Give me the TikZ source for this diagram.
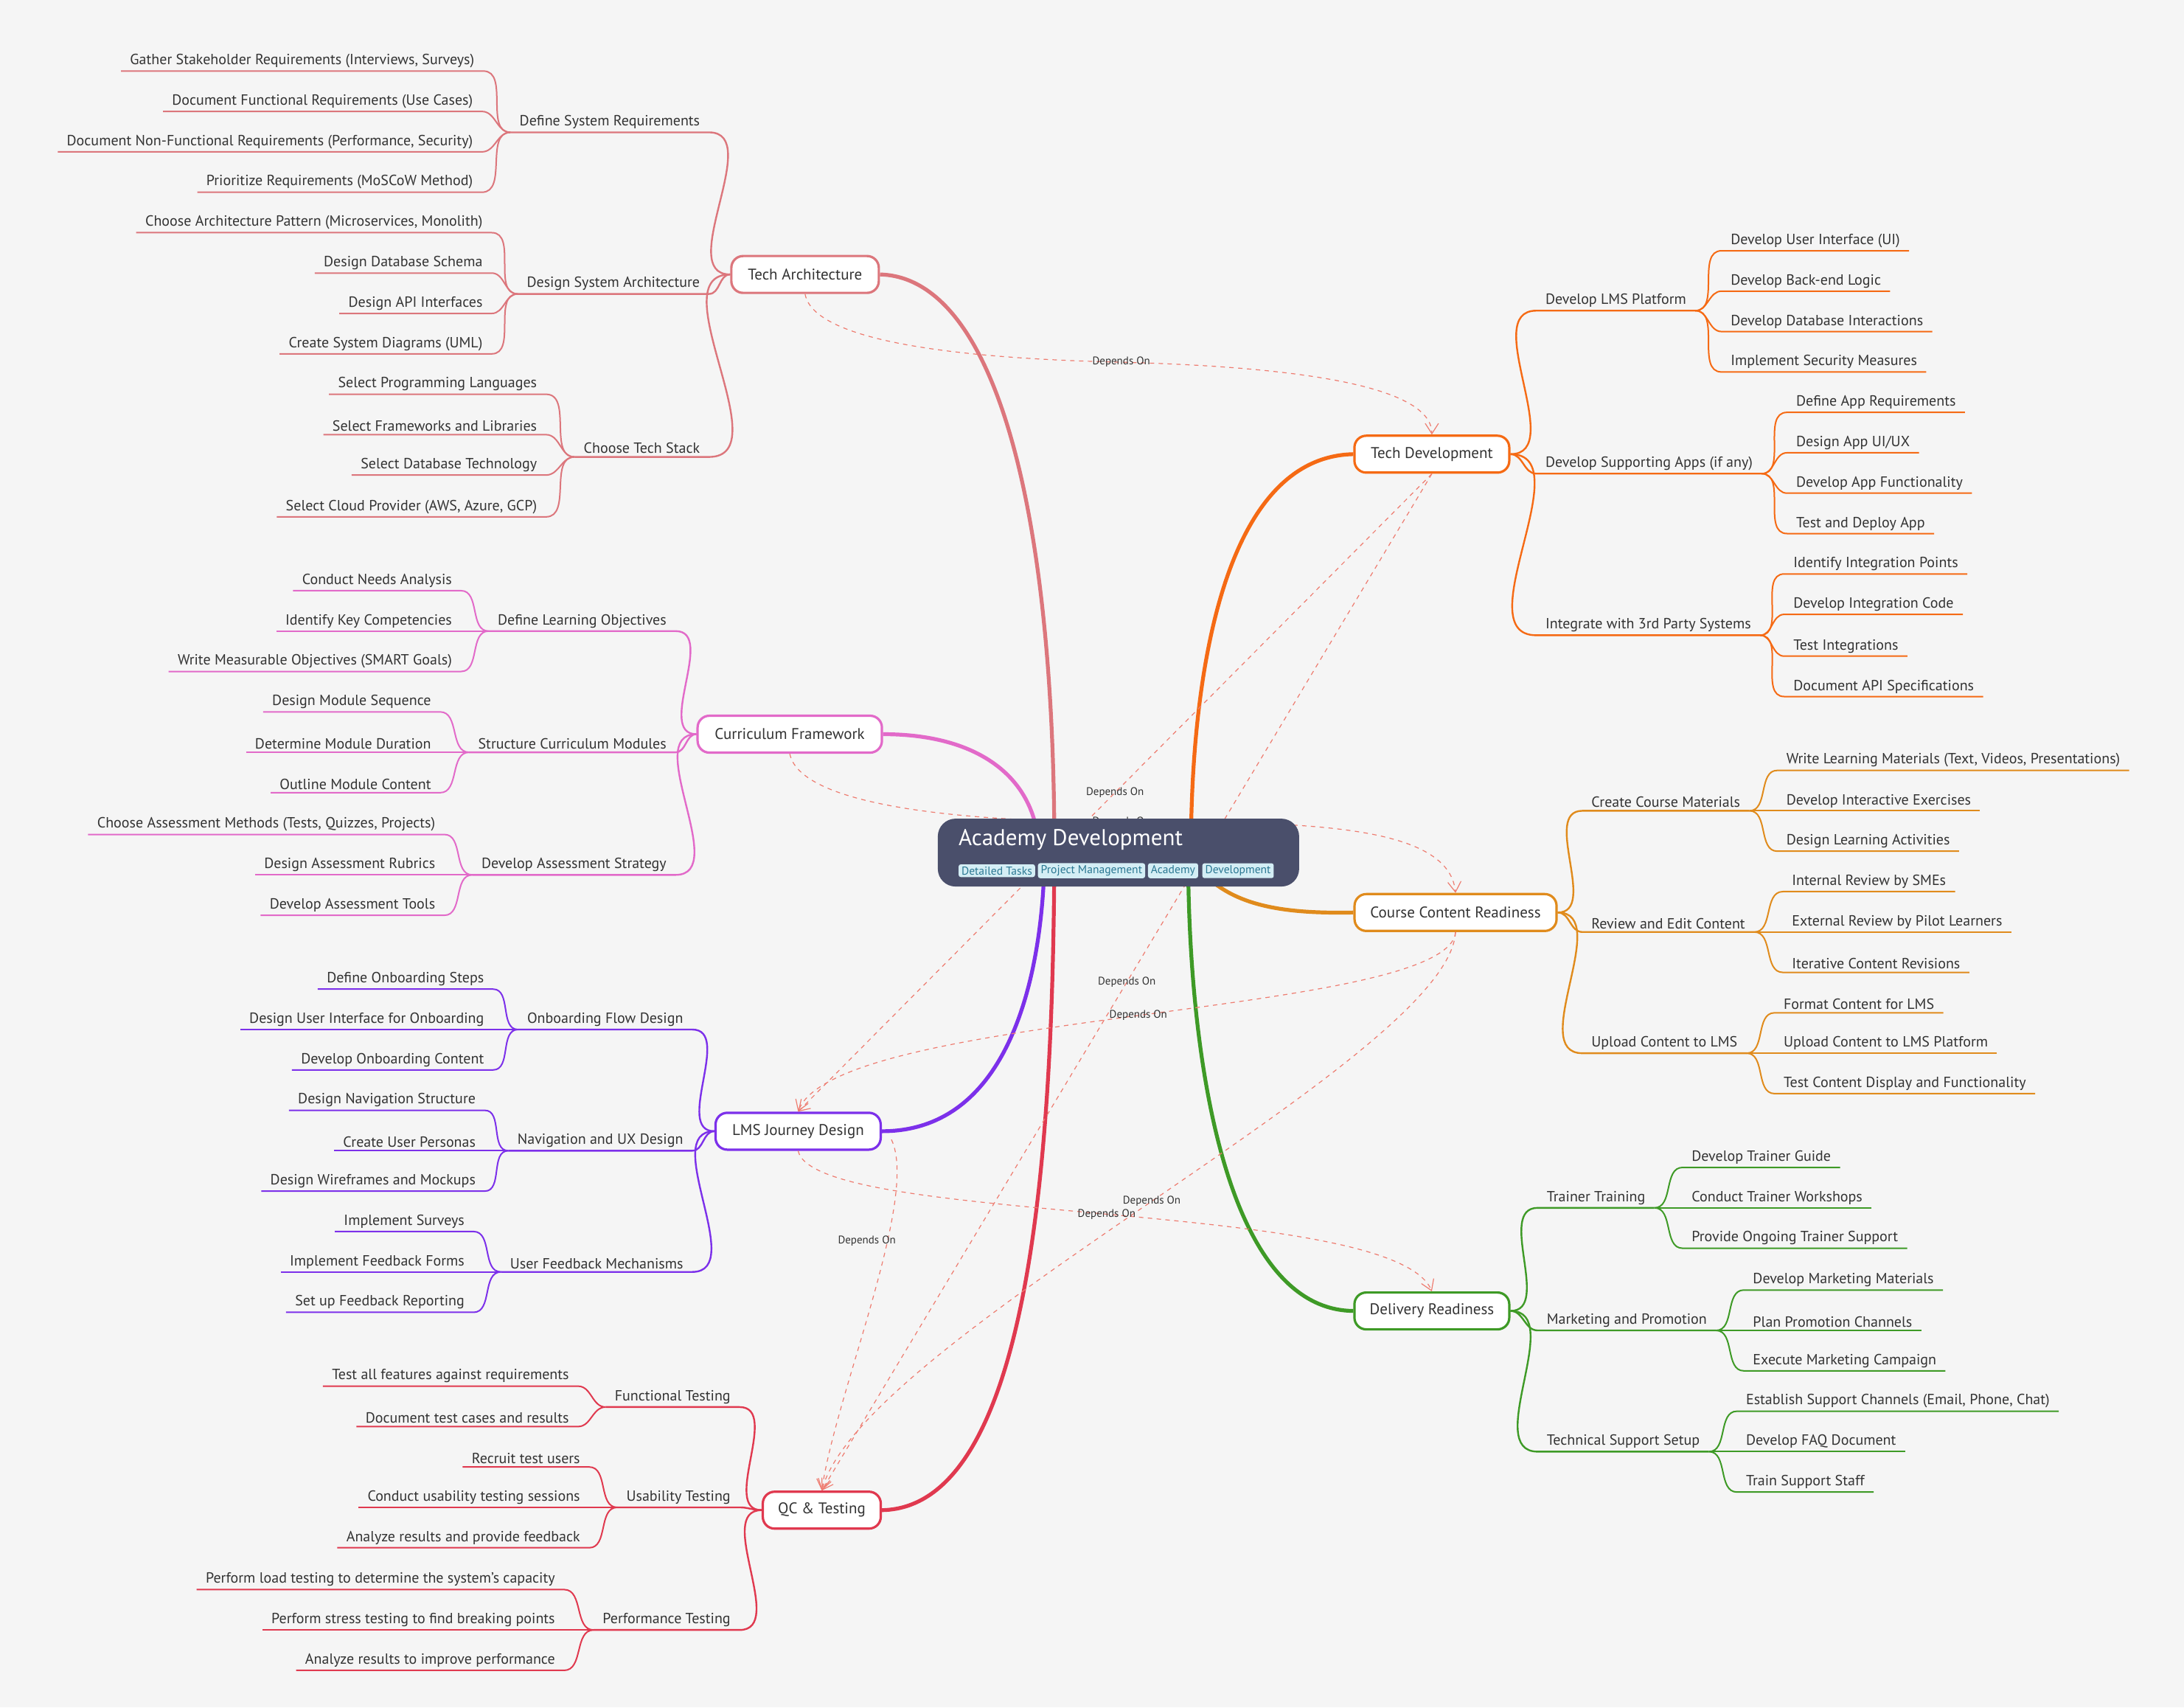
\documentclass[tikz,border=0pt]{standalone}
\usepackage{fontspec}
\setmainfont{PT Sans}
\usetikzlibrary{arrows.meta}
\definecolor{bg}{HTML}{F5F5F5}
\definecolor{cTA}{HTML}{DC767C}
\definecolor{cCF}{HTML}{E26AC9}
\definecolor{cLJ}{HTML}{7C30EA}
\definecolor{cQC}{HTML}{E0394F}
\definecolor{cTD}{HTML}{F56A14}
\definecolor{cCC}{HTML}{E08B1C}
\definecolor{cDR}{HTML}{3E9A26}
\definecolor{dep}{HTML}{EE7C70}
\definecolor{ctr}{HTML}{4A4F6B}
\definecolor{tagbg}{HTML}{D4EEF5}
\definecolor{tagfg}{HTML}{2A7792}
\definecolor{txt}{HTML}{333333}
\newcommand\Lsub[4]{\node[leaf,anchor=south east] (#1) at ({#2+6},{#3+10}) {#4};}
\newcommand\Rsub[4]{\node[leaf,anchor=south west] (#1) at ({#2-6},{#3+10}) {#4};}
\newcommand\Lcon[3]{\draw[#3] (#1.south west) -- (#1.south east) to[out=0,in=180] (#2);}
\newcommand\Rcon[3]{\draw[#3] (#1.south east) -- (#1.south west) to[out=180,in=0] (#2);}
\begin{document}
\begin{tikzpicture}[x=0.9445pt,y=-0.9445pt,
  leaf/.style={font=\fontsize{10}{12}\selectfont,text=txt,inner xsep=6pt,inner ysep=2pt},
  mainbox/.style={draw,line width=1.6pt,fill=white,rounded corners=8pt,font=\fontsize{10.5}{12}\selectfont,text=txt,minimum height=25pt},
  trunk/.style={line width=2.6pt},
  thinl/.style={line width=1pt},
  depl/.style={dep,dashed,line width=0.6pt,-{Straight Barb[length=7pt,width=9pt]}},
  deplab/.style={font=\fontsize{7.5}{9}\selectfont,text=txt,inner sep=1pt},
  tag/.style={fill=tagbg,text=tagfg,font=\fontsize{7.8}{9}\selectfont,rounded corners=1.5pt,inner xsep=2pt,inner ysep=1.5pt,anchor=west}]
\fill[bg] (0,0) rectangle (1568,1225.6);
\useasboundingbox (0,0) rectangle (1568,1225.6);
% main nodes
\node[mainbox,draw=cTA,minimum width=100pt] (TA) at (578,197) {Tech Architecture};
\node[mainbox,draw=cCF,minimum width=125pt] (CF) at (567,527) {Curriculum Framework};
\node[mainbox,draw=cLJ,minimum width=112pt] (LJ) at (573,812) {LMS Journey Design};
\node[mainbox,draw=cQC,minimum width=80pt] (QC) at (590,1084) {QC \& Testing};
\node[mainbox,draw=cTD,minimum width=105pt] (TD) at (1028,326) {Tech Development};
\node[mainbox,draw=cCC,minimum width=137pt] (CC) at (1045,655) {Course Content Readiness};
\node[mainbox,draw=cDR,minimum width=105pt] (DR) at (1028,941) {Delivery Readiness};
% trunks
\draw[trunk,cTA] (TA.east) .. controls (710,199) and (757,350) .. (757,612);
\draw[trunk,cCF] (CF.east) .. controls (705,527) and (745,560) .. (746,612);
\draw[trunk,cLJ] (LJ.east) .. controls (725,812) and (749,700) .. (750,612);
\draw[trunk,cQC] (QC.east) .. controls (745,1082) and (756,800) .. (757,612);
\draw[trunk,cTD] (TD.west) .. controls (880,328) and (855,480) .. (855,612);
\draw[trunk,cCC] (CC.west) .. controls (920,656) and (885,650) .. (862,625);
\draw[trunk,cDR] (DR.west) .. controls (880,940) and (853,760) .. (853,612);
% dependencies
\draw[depl] (TA.south) .. controls (585,250) and (720,258) .. (805,260) node[deplab] {Depends On} .. controls (920,263) and (1028,275) .. (TD.north);
\draw[depl] (TD.south) -- node[deplab,pos=0.5] {Depends On} (LJ.north);
\draw[depl] (TD.south) -- node[deplab,pos=0.5] {Depends On} (QC.north);
\draw[depl] (CF.south) .. controls (575,580) and (700,590) .. (805,590) node[deplab] {Depends On} .. controls (930,590) and (1040,590) .. (CC.north);
\draw[depl] (CC.south) .. controls (1040,730) and (600,725) .. node[deplab,pos=0.5] {Depends On} (LJ.north);
\draw[depl] (CC.south) .. controls (1040,760) and (620,960) .. node[deplab,pos=0.5] {Depends On} (QC.north);
\draw[depl] (LJ.south) .. controls (585,880) and (1000,860) .. node[deplab,pos=0.5] {Depends On} (DR.north);
\draw[depl] (640,818) .. controls (660,860) and (600,1000) .. node[deplab,pos=0.35,xshift=-14pt] {Depends On} (QC.north);
% center
\node[fill=ctr,rounded corners=12pt,minimum width=245pt,minimum height=46pt] (C) at (803,612) {};
\node[anchor=west,text=white,font=\fontsize{15.5}{17}\selectfont,inner sep=0pt] (Ct) at (688,603) {Academy Development};
\node[tag] (t1) at (688,625) {Detailed Tasks};
\node[tag] (t2) at (745,625) {Project Management};
\node[tag] (t3) at (824,625) {Academy};
\node[tag] (t4) at (863,625) {Development};
% ---------- TA
\Lsub{a1}{503}{85}{Define System Requirements}
\Lsub{a11}{341}{41}{Gather Stakeholder Requirements (Interviews, Surveys)}
\Lsub{a12}{340}{70}{Document Functional Requirements (Use Cases)}
\Lsub{a13}{340}{99}{Document Non-Functional Requirements (Performance, Security)}
\Lsub{a14}{340}{128}{Prioritize Requirements (MoSCoW Method)}
\Lsub{a2}{503}{201}{Design System Architecture}
\Lsub{a21}{347}{157}{Choose Architecture Pattern (Microservices, Monolith)}
\Lsub{a22}{347}{186}{Design Database Schema}
\Lsub{a23}{347}{215}{Design API Interfaces}
\Lsub{a24}{347}{244}{Create System Diagrams (UML)}
\Lsub{a3}{503}{318}{Choose Tech Stack}
\Lsub{a31}{386}{273}{Select Programming Languages}
\Lsub{a32}{386}{302}{Select Frameworks and Libraries}
\Lsub{a33}{386}{331}{Select Database Technology}
\Lsub{a34}{386}{361}{Select Cloud Provider (AWS, Azure, GCP)}
\foreach \s in {a1,a2,a3}{\Lcon{\s}{TA.west}{cTA,line width=1.2pt}}
\foreach \c in {a11,a12,a13,a14}{\Lcon{\c}{a1.south west}{cTA,thinl}}
\foreach \c in {a21,a22,a23,a24}{\Lcon{\c}{a2.south west}{cTA,thinl}}
\foreach \c in {a31,a32,a33,a34}{\Lcon{\c}{a3.south west}{cTA,thinl}}
% ---------- CF
\Lsub{b1}{479}{443}{Define Learning Objectives}
\Lsub{b11}{325}{414}{Conduct Needs Analysis}
\Lsub{b12}{325}{443}{Identify Key Competencies}
\Lsub{b13}{325}{472}{Write Measurable Objectives (SMART Goals)}
\Lsub{b2}{479}{530}{Structure Curriculum Modules}
\Lsub{b21}{310}{501}{Design Module Sequence}
\Lsub{b22}{310}{530}{Determine Module Duration}
\Lsub{b23}{310}{559}{Outline Module Content}
\Lsub{b3}{479}{618}{Develop Assessment Strategy}
\Lsub{b31}{313}{589}{Choose Assessment Methods (Tests, Quizzes, Projects)}
\Lsub{b32}{313}{618}{Design Assessment Rubrics}
\Lsub{b33}{313}{647}{Develop Assessment Tools}
\foreach \s in {b1,b2,b3}{\Lcon{\s}{CF.west}{cCF,line width=1.2pt}}
\foreach \c in {b11,b12,b13}{\Lcon{\c}{b1.south west}{cCF,thinl}}
\foreach \c in {b21,b22,b23}{\Lcon{\c}{b2.south west}{cCF,thinl}}
\foreach \c in {b31,b32,b33}{\Lcon{\c}{b3.south west}{cCF,thinl}}
% ---------- LJ
\Lsub{c1}{491}{729}{Onboarding Flow Design}
\Lsub{c11}{348}{700}{Define Onboarding Steps}
\Lsub{c12}{348}{729}{Design User Interface for Onboarding}
\Lsub{c13}{348}{758}{Develop Onboarding Content}
\Lsub{c2}{491}{816}{Navigation and UX Design}
\Lsub{c21}{342}{787}{Design Navigation Structure}
\Lsub{c22}{342}{816}{Create User Personas}
\Lsub{c23}{342}{845}{Design Wireframes and Mockups}
\Lsub{c3}{491}{903}{User Feedback Mechanisms}
\Lsub{c31}{334}{874}{Implement Surveys}
\Lsub{c32}{334}{903}{Implement Feedback Forms}
\Lsub{c33}{334}{932}{Set up Feedback Reporting}
\foreach \s in {c1,c2,c3}{\Lcon{\s}{LJ.west}{cLJ,line width=1.2pt}}
\foreach \c in {c11,c12,c13}{\Lcon{\c}{c1.south west}{cLJ,thinl}}
\foreach \c in {c21,c22,c23}{\Lcon{\c}{c2.south west}{cLJ,thinl}}
\foreach \c in {c31,c32,c33}{\Lcon{\c}{c3.south west}{cLJ,thinl}}
% ---------- QC
\Lsub{d1}{525}{1000}{Functional Testing}
\Lsub{d11}{409}{985}{Test all features against requirements}
\Lsub{d12}{409}{1014}{Document test cases and results}
\Lsub{d2}{525}{1072}{Usability Testing}
\Lsub{d21}{417}{1043}{Recruit test users}
\Lsub{d22}{417}{1072}{Conduct usability testing sessions}
\Lsub{d23}{417}{1101}{Analyze results and provide feedback}
\Lsub{d3}{525}{1160}{Performance Testing}
\Lsub{d31}{399}{1131}{Perform load testing to determine the system's capacity}
\Lsub{d32}{399}{1160}{Perform stress testing to find breaking points}
\Lsub{d33}{399}{1189}{Analyze results to improve performance}
\foreach \s in {d1,d2,d3}{\Lcon{\s}{QC.west}{cQC,line width=1.2pt}}
\foreach \c in {d11,d12}{\Lcon{\c}{d1.south west}{cQC,thinl}}
\foreach \c in {d21,d22,d23}{\Lcon{\c}{d2.south west}{cQC,thinl}}
\foreach \c in {d31,d32,d33}{\Lcon{\c}{d3.south west}{cQC,thinl}}
% ---------- TD
\Rsub{e1}{1109}{213}{Develop LMS Platform}
\Rsub{e11}{1242}{170}{Develop User Interface (UI)}
\Rsub{e12}{1242}{199}{Develop Back-end Logic}
\Rsub{e13}{1242}{228}{Develop Database Interactions}
\Rsub{e14}{1242}{257}{Implement Security Measures}
\Rsub{e2}{1109}{330}{Develop Supporting Apps (if any)}
\Rsub{e21}{1289}{286}{Define App Requirements}
\Rsub{e22}{1289}{315}{Design App UI/UX}
\Rsub{e23}{1289}{344}{Develop App Functionality}
\Rsub{e24}{1289}{373}{Test and Deploy App}
\Rsub{e3}{1109}{446}{Integrate with 3rd Party Systems}
\Rsub{e31}{1287}{402}{Identify Integration Points}
\Rsub{e32}{1287}{431}{Develop Integration Code}
\Rsub{e33}{1287}{461}{Test Integrations}
\Rsub{e34}{1287}{490}{Document API Specifications}
\foreach \s in {e1,e2,e3}{\Rcon{\s}{TD.east}{cTD,line width=1.2pt}}
\foreach \c in {e11,e12,e13,e14}{\Rcon{\c}{e1.south east}{cTD,thinl}}
\foreach \c in {e21,e22,e23,e24}{\Rcon{\c}{e2.south east}{cTD,thinl}}
\foreach \c in {e31,e32,e33,e34}{\Rcon{\c}{e3.south east}{cTD,thinl}}
% ---------- CC
\Rsub{f1}{1142}{572}{Create Course Materials}
\Rsub{f11}{1282}{543}{Write Learning Materials (Text, Videos, Presentations)}
\Rsub{f12}{1282}{572}{Develop Interactive Exercises}
\Rsub{f13}{1282}{601}{Design Learning Activities}
\Rsub{f2}{1142}{659}{Review and Edit Content}
\Rsub{f21}{1286}{630}{Internal Review by SMEs}
\Rsub{f22}{1286}{659}{External Review by Pilot Learners}
\Rsub{f23}{1286}{688}{Iterative Content Revisions}
\Rsub{f3}{1142}{746}{Upload Content to LMS}
\Rsub{f31}{1280}{717}{Format Content for LMS}
\Rsub{f32}{1280}{746}{Upload Content to LMS Platform}
\Rsub{f33}{1280}{775}{Test Content Display and Functionality}
\foreach \s in {f1,f2,f3}{\Rcon{\s}{CC.east}{cCC,line width=1.2pt}}
\foreach \c in {f11,f12,f13}{\Rcon{\c}{f1.south east}{cCC,thinl}}
\foreach \c in {f21,f22,f23}{\Rcon{\c}{f2.south east}{cCC,thinl}}
\foreach \c in {f31,f32,f33}{\Rcon{\c}{f3.south east}{cCC,thinl}}
% ---------- DR
\Rsub{g1}{1110}{857}{Trainer Training}
\Rsub{g11}{1214}{828}{Develop Trainer Guide}
\Rsub{g12}{1214}{857}{Conduct Trainer Workshops}
\Rsub{g13}{1214}{886}{Provide Ongoing Trainer Support}
\Rsub{g2}{1110}{945}{Marketing and Promotion}
\Rsub{g21}{1258}{916}{Develop Marketing Materials}
\Rsub{g22}{1258}{945}{Plan Promotion Channels}
\Rsub{g23}{1258}{974}{Execute Marketing Campaign}
\Rsub{g3}{1110}{1032}{Technical Support Setup}
\Rsub{g31}{1253}{1003}{Establish Support Channels (Email, Phone, Chat)}
\Rsub{g32}{1253}{1032}{Develop FAQ Document}
\Rsub{g33}{1253}{1061}{Train Support Staff}
\foreach \s in {g1,g2,g3}{\Rcon{\s}{DR.east}{cDR,line width=1.2pt}}
\foreach \c in {g11,g12,g13}{\Rcon{\c}{g1.south east}{cDR,thinl}}
\foreach \c in {g21,g22,g23}{\Rcon{\c}{g2.south east}{cDR,thinl}}
\foreach \c in {g31,g32,g33}{\Rcon{\c}{g3.south east}{cDR,thinl}}
\end{tikzpicture}
\end{document}
